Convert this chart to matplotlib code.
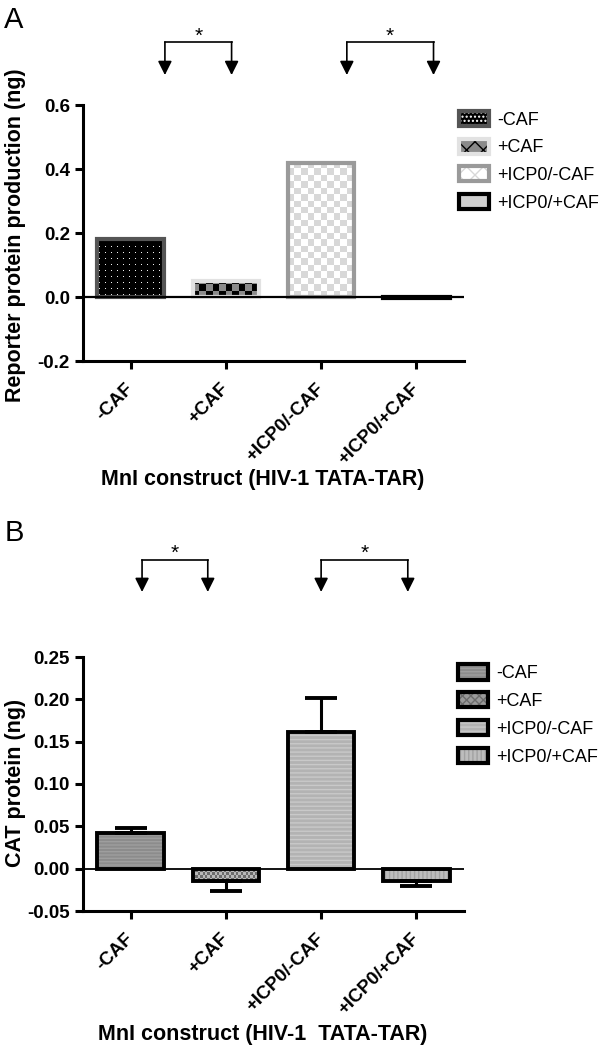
import numpy as np
import matplotlib.pyplot as plt
from matplotlib.patches import Patch
from matplotlib.colors import ListedColormap
from matplotlib.transforms import blended_transform_factory

plt.rcParams['font.family'] = ['Liberation Sans', 'DejaVu Sans']
plt.rcParams['hatch.linewidth'] = 1.0

# data
groups = ['-CAF', '+CAF', '+ICP0/-CAF', '+ICP0/+CAF']
reporter_ng = [0.18, 0.05, 0.42, -0.004]
cat_ng = [0.042, -0.015, 0.161, -0.015]
cat_err = [0.006, 0.011, 0.041, 0.006]
yticks_a = [-0.2, 0.0, 0.2, 0.4, 0.6]
yticks_b = [-0.05, 0.0, 0.05, 0.10, 0.15, 0.20, 0.25]
ylabel_a = 'Reporter protein production (ng)'
ylabel_b = 'CAT protein (ng)'
xlabel_a = 'MnI construct (HIV-1 TATA-TAR)'
xlabel_b = 'MnI construct (HIV-1  TATA-TAR)'

W, H = 600, 1047
fig = plt.figure(figsize=(W / 100, H / 100), dpi=100)
axA = fig.add_axes([83 / W, 1 - 361 / H, 381 / W, 256 / H])
axB = fig.add_axes([83 / W, 1 - 911 / H, 381 / W, 254 / H])
x = np.arange(len(groups))


def texture(ax, bar, tile, cols, cx, cy, z=1.5):
    # repeat a small tile over the bar and clip it to the bar
    tile = np.asarray(tile)
    x0, y0 = bar.get_x(), bar.get_y()
    w, h = bar.get_width(), bar.get_height()
    lo, hi = min(y0, y0 + h), max(y0, y0 + h)
    nx = max(1, int(np.ceil(w / cx)))
    ny = max(1, int(np.ceil((hi - lo) / cy)))
    ty, tx = tile.shape
    grid = np.tile(tile, (ny // ty + 1, nx // tx + 1))[:ny, :nx]
    im = ax.imshow(grid, cmap=ListedColormap(cols), origin='lower', aspect='auto',
                   interpolation='nearest', zorder=z, vmin=0, vmax=len(cols) - 1,
                   extent=(x0, x0 + nx * cx, lo, lo + ny * cy))
    im.set_clip_path(bar)


CHECK = [[0, 1], [1, 0]]
DOTS = [[0, 0, 0, 0], [0, 1, 0, 0], [0, 0, 0, 0], [0, 0, 0, 0]]


def style_axes(ax, ylim, yticks, fmt, ylabel, xlabel, ylab_y, xlab_y):
    ax.set_xlim(-0.5, 3.5)
    ax.set_ylim(*ylim)
    ax.set_yticks(yticks)
    ax.set_yticklabels([fmt % v for v in yticks], fontsize=13.5, fontweight='bold')
    ax.set_xticks(x)
    ax.set_xticklabels(groups, fontsize=13.5, fontweight='bold', rotation=45,
                       ha='right', va='center', rotation_mode='anchor')
    ax.tick_params(axis='both', width=2.2, length=6, direction='out')
    ax.tick_params(axis='x', pad=12)
    for s in ['top', 'right']:
        ax.spines[s].set_visible(False)
    for s in ['left', 'bottom']:
        ax.spines[s].set_linewidth(2.2)
    ax.set_ylabel(ylabel, fontsize=15.5, fontweight='bold', va='center')
    ax.yaxis.set_label_coords(-0.178, ylab_y)
    ax.set_xlabel(xlabel, fontsize=15.5, fontweight='bold', va='center')
    ax.xaxis.set_label_coords(0.472, xlab_y)


def brackets(ax, pairs, yb, ytip, ystar):
    tr = blended_transform_factory(ax.transData, ax.transAxes)
    for x1, x2 in pairs:
        ax.plot([x1, x2], [yb, yb], color='black', lw=1.2, transform=tr, clip_on=False)
        for xx in (x1, x2):
            ax.annotate('', xy=(xx, ytip), xytext=(xx, yb), xycoords=tr, textcoords=tr,
                        arrowprops=dict(arrowstyle='-|>,head_length=0.7,head_width=0.35',
                                        color='black', lw=1.2, shrinkA=0, shrinkB=0,
                                        mutation_scale=12))
        ax.text((x1 + x2) / 2, ystar, '*', transform=tr, ha='center', va='center',
                fontsize=15)


# ---- panel A ----
edgesA = ['#555555', '#e2e2e2', '#9a9a9a', 'black']
barsA = axA.bar(x, reporter_ng, width=0.7, facecolor='none', edgecolor=edgesA,
                linewidth=3, zorder=2)
texture(axA, barsA[0], DOTS, ['black', '#f0f0f0'], 0.0157, 0.0047)
texture(axA, barsA[1], CHECK, ['black', '#8a8a8a'], 0.068, 0.02)
texture(axA, barsA[2], CHECK, ['white', '#d8d8d8'], 0.068, 0.02)
axA.bar(x[3], reporter_ng[3], width=0.7, facecolor='#d0d0d0', linewidth=0, zorder=1.5)
axA.axhline(0, color='black', lw=1.6, zorder=3)
style_axes(axA, (-0.2, 0.6), yticks_a, '%.1f', ylabel_a, xlabel_a, 0.49, -0.461)
brackets(axA, [(0.36, 1.06), (2.27, 3.18)], 1.246, 1.117, 1.27)

handlesA = [
    (Patch(facecolor='black', edgecolor='white', hatch='....', linewidth=0),
     Patch(facecolor='none', edgecolor='#555555', linewidth=3)),
    (Patch(facecolor='#8a8a8a', edgecolor='black', hatch='xx', linewidth=0),
     Patch(facecolor='none', edgecolor='#e2e2e2', linewidth=3)),
    (Patch(facecolor='white', edgecolor='#d8d8d8', hatch='xx', linewidth=0),
     Patch(facecolor='none', edgecolor='#9a9a9a', linewidth=3)),
    Patch(facecolor='#d0d0d0', edgecolor='black', linewidth=3),
]
fig.legend(handlesA, groups, loc='upper left', bbox_to_anchor=(459 / W, 1 - 111 / H),
           frameon=False, fontsize=13, handlelength=1.65, handleheight=0.9,
           handletextpad=0.45, labelspacing=0.55, borderpad=0, borderaxespad=0)

# ---- panel B ----
facesB = ['#8c8c8c', '#9a9a9a', '#b3b3b3', '#bdbdbd']
hatchB = ['-----', None, '----', '||||']
hcolB = ['#9e9e9e', '#9a9a9a', '#c9c9c9', '#a2a2a2']
fillB = axB.bar(x, cat_ng, width=0.7, facecolor=facesB, edgecolor=hcolB,
                linewidth=0, zorder=1.5)
for b, h in zip(fillB, hatchB):
    if h:
        b.set_hatch(h)
barsB = axB.bar(x, cat_ng, width=0.7, facecolor='none', edgecolor='black',
                linewidth=2.8, zorder=2)
texture(axB, barsB[1], CHECK, ['#6c6c6c', '#b8b8b8'], 0.025, 0.0035, z=1.6)
lower = [e if v < 0 else 0 for v, e in zip(cat_ng, cat_err)]
upper = [e if v >= 0 else 0 for v, e in zip(cat_ng, cat_err)]
axB.errorbar(x, cat_ng, yerr=[lower, upper], fmt='none', ecolor='black',
             elinewidth=2.2, capsize=11.5, capthick=2.8, zorder=1.8)
axB.axhline(0, color='black', lw=1.3, zorder=3)
style_axes(axB, (-0.05, 0.25), yticks_b, '%.2f', ylabel_b, xlabel_b, 0.504, -0.488)
brackets(axB, [(0.12, 0.81), (2.0, 2.91)], 1.382, 1.256, 1.41)

handlesB = []
for i in range(4):
    fill = Patch(facecolor=facesB[i], edgecolor=hcolB[i] if i != 1 else '#6c6c6c',
                 hatch=hatchB[i] if i != 1 else 'xxxx', linewidth=0)
    handlesB.append((fill, Patch(facecolor='none', edgecolor='black', linewidth=3)))
fig.legend(handlesB, groups, loc='upper left', bbox_to_anchor=(458 / W, 1 - 664 / H),
           frameon=False, fontsize=13, handlelength=1.65, handleheight=0.95,
           handletextpad=0.45, labelspacing=0.55, borderpad=0, borderaxespad=0)

fig.text(14 / W, 1 - 20 / H, 'A', fontsize=21, ha='center', va='center')
fig.text(14 / W, 1 - 533 / H, 'B', fontsize=21, ha='center', va='center')

fig.savefig('out.png', dpi=100)
